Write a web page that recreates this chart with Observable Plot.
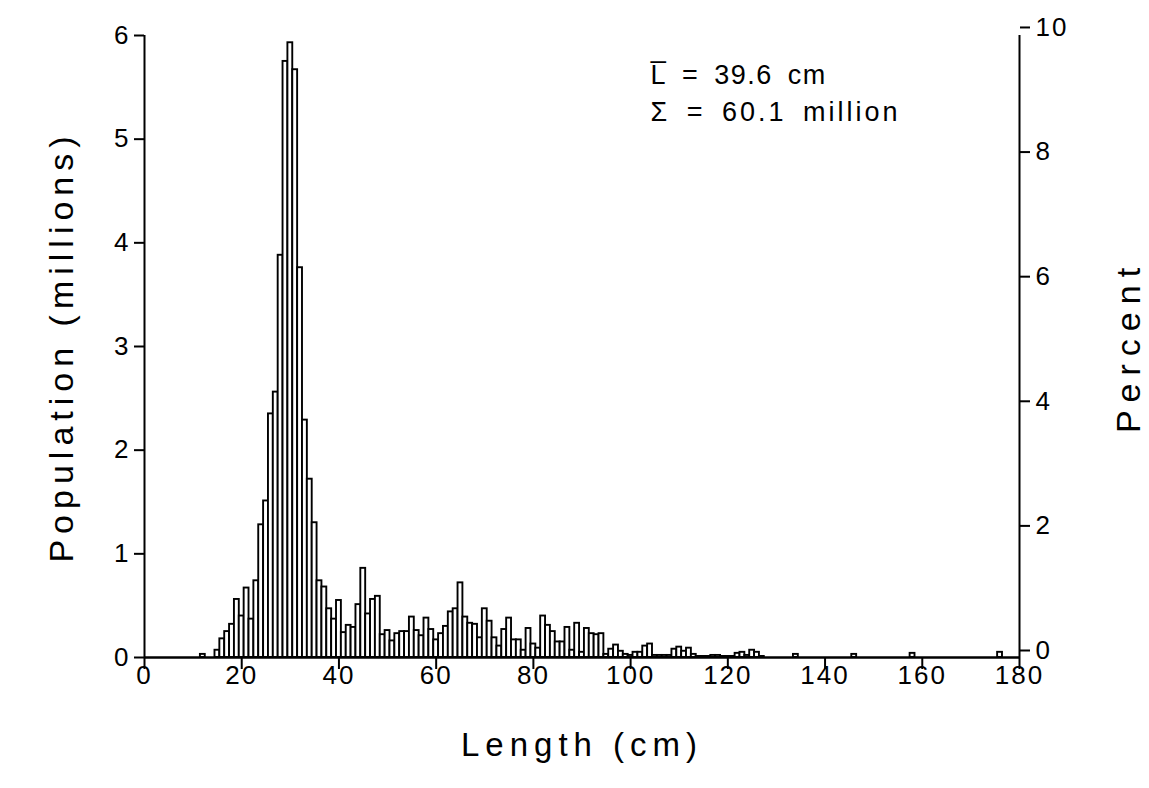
<!DOCTYPE html>
<html><head><meta charset="utf-8">
<script src="https://cdn.jsdelivr.net/npm/d3@7"></script>
<script src="https://cdn.jsdelivr.net/npm/@observablehq/plot@0.6"></script>
<style>
body{margin:0;background:#fff}
svg{font-family:"Liberation Sans",Arial,sans-serif}
</style>
</head><body><div id="chart"></div>
<script>
// Length class (cm, bar centre) and population (millions)
const lengths = [12,15,16,17,18,19,20,21,22,23,24,25,26,27,28,29,30,31,32,33,34,35,36,37,38,39,40,
  41,42,43,44,45,46,47,48,49,50,51,52,53,54,55,56,57,58,59,60,61,62,63,64,65,66,67,68,69,70,
  71,72,73,74,75,76,77,78,79,80,81,82,83,84,85,86,87,88,89,90,91,92,93,94,95,96,97,98,99,100,
  101,102,103,104,105,106,107,108,109,110,111,112,113,114,115,116,117,118,119,120,121,122,123,124,125,126,127,
  134,146,158,176];
const population = [0.03,0.07,0.18,0.25,0.32,0.56,0.40,0.67,0.37,0.74,1.28,1.51,2.35,2.56,3.88,5.75,5.93,5.67,3.76,2.29,1.72,1.30,0.74,0.68,0.47,0.37,0.55,
  0.24,0.31,0.29,0.51,0.86,0.42,0.56,0.59,0.22,0.26,0.16,0.23,0.25,0.25,0.39,0.26,0.21,0.38,0.27,0.17,0.23,0.30,0.44,0.47,0.72,0.39,0.33,0.32,0.19,0.47,
  0.35,0.19,0.11,0.27,0.38,0.17,0.17,0.07,0.28,0.13,0.09,0.40,0.31,0.25,0.15,0.15,0.29,0.07,0.33,0.05,0.28,0.23,0.22,0.23,0.03,0.08,0.12,0.06,0.03,0.02,
  0.05,0.05,0.11,0.13,0.02,0.02,0.02,0.02,0.08,0.10,0.06,0.09,0.03,0.01,0.01,0.01,0.02,0.02,0.01,0.01,0.01,0.04,0.05,0.02,0.07,0.05,0.01,
  0.03,0.03,0.04,0.05];
const xTicks = [0,20,40,60,80,100,120,140,160,180];
const yTicks = [0,1,2,3,4,5,6];
const pctTicks = [0,2,4,6,8,10];
const totalMillions = 60.1;
const xLabel = "Length (cm)";
const yLabel = "Population (millions)";
const y2Label = "Percent";
const noteLines = ["L\u0305\u2002=\u200239.6\u2002cm", "\u03A3\u2002=\u200260.1\u2002million"];

const data = lengths.map((c, i) => ({c, v: population[i]}));

const chart = Plot.plot({
  width: 1149, height: 788,
  marginLeft: 144, marginRight: 130, marginTop: 35, marginBottom: 131,
  x: {domain: [0, 180]},
  y: {domain: [0, 6]},
  style: {fontFamily: '"Liberation Sans", Arial, sans-serif', color: "black", background: "white", overflow: "visible"},
  marks: [
    Plot.rectY(data, {x1: d => d.c - 0.5, x2: d => d.c + 0.5, y1: 0, y2: "v", fill: "white", stroke: "black", strokeWidth: 1.9}),
    Plot.ruleY([0], {stroke: "black", strokeWidth: 2.5}),
    Plot.ruleX([0], {stroke: "black", strokeWidth: 2}),
    Plot.ruleX([180], {stroke: "black", strokeWidth: 2}),
    Plot.axisX({ticks: xTicks, tickSize: 12, tickPadding: -4, label: null, fontSize: 26, strokeWidth: 2}),
    Plot.axisY({anchor: "left", ticks: yTicks, tickFormat: d3.format("d"), tickSize: 10, tickPadding: 4, label: null, fontSize: 26, strokeWidth: 2}),
    Plot.axisY({anchor: "right", ticks: pctTicks.map(p => p * totalMillions / 100),
      tickFormat: d => String(Math.round(d / totalMillions * 100)), tickSize: 10, tickPadding: 6,
      label: null, fontSize: 26, strokeWidth: 2, dy: -7}),
    Plot.text([xLabel], {frameAnchor: "bottom", dy: 88, fontSize: 33, lineAnchor: "middle", text: d => d}),
    Plot.text([yLabel], {frameAnchor: "left", dx: -82, rotate: -90, textAnchor: "middle", lineAnchor: "middle", fontSize: 34, text: d => d}),
    Plot.text([y2Label], {frameAnchor: "right", dx: 110, rotate: -90, textAnchor: "middle", lineAnchor: "middle", fontSize: 34, text: d => d}),
    Plot.text([noteLines[0]], {frameAnchor: "top-left", dx: 506, dy: 40, textAnchor: "start", lineAnchor: "middle", fontSize: 27, text: d => d}),
    Plot.text([noteLines[1]], {frameAnchor: "top-left", dx: 506, dy: 77, textAnchor: "start", lineAnchor: "middle", fontSize: 27, text: d => d})
  ]
});

const svg = chart;
svg.querySelectorAll('[aria-label="x-axis tick label"] text, [aria-label="y-axis tick label"] text').forEach(t => t.setAttribute("letter-spacing", "2"));
svg.querySelectorAll('text').forEach(t => {
  const s = t.textContent;
  if (s === xLabel) t.setAttribute("letter-spacing", "6");
  if (s === yLabel) t.setAttribute("letter-spacing", "6");
  if (s === y2Label) t.setAttribute("letter-spacing", "8");
  if (s === noteLines[0]) t.setAttribute("letter-spacing", "1.5");
  if (s === noteLines[1]) t.setAttribute("letter-spacing", "3");
});
document.getElementById("chart").appendChild(chart);
</script>
</body></html>
